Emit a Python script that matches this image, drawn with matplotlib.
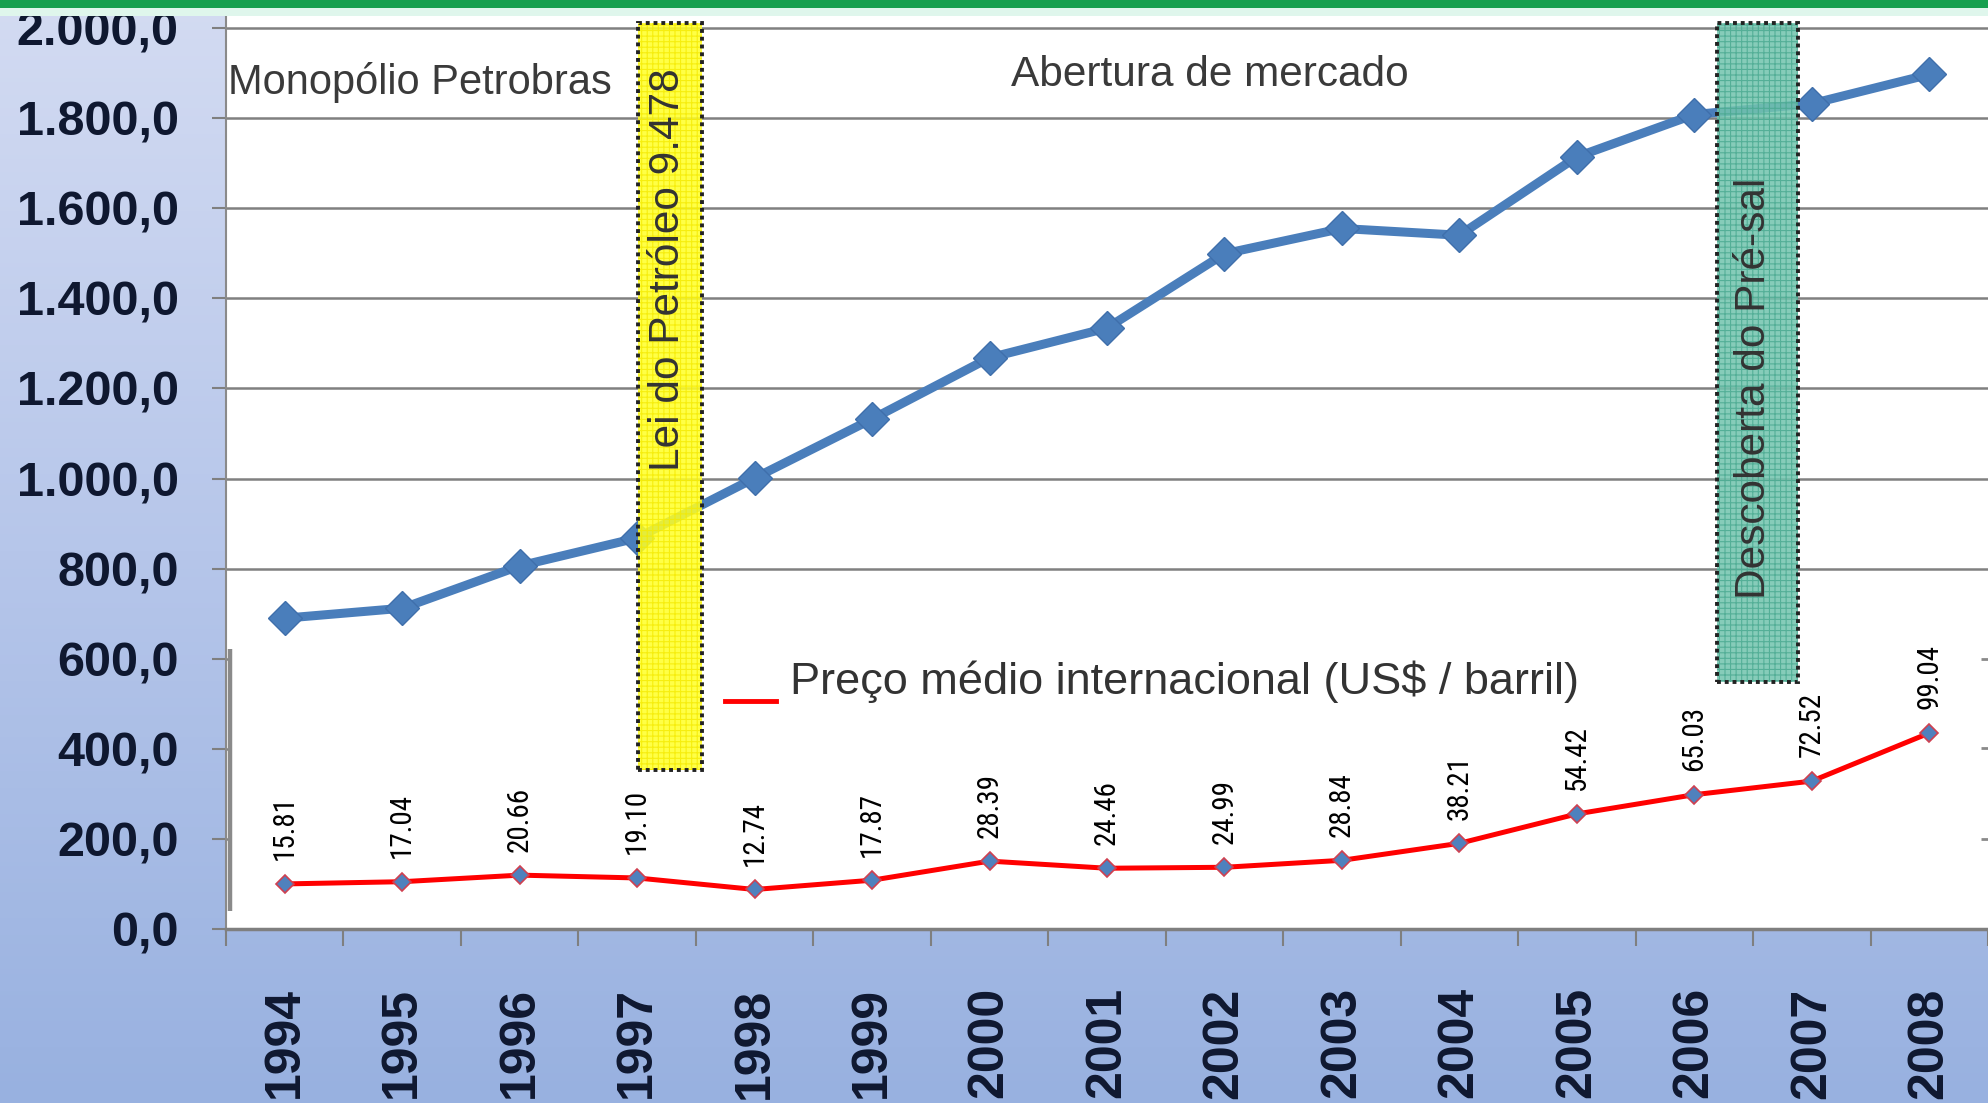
import numpy as np
import matplotlib
matplotlib.use("Agg")
import matplotlib.pyplot as plt
from matplotlib import font_manager
from matplotlib.patches import Rectangle
from matplotlib.colors import LinearSegmentedColormap, to_rgba

# ---------------- data ----------------
years = ["1994", "1995", "1996", "1997", "1998", "1999", "2000", "2001",
         "2002", "2003", "2004", "2005", "2006", "2007", "2008"]
producao = [690, 712, 806, 868, 1001, 1132, 1268, 1334, 1499, 1555, 1540,
            1714, 1808, 1832, 1897]
preco = [15.81, 17.04, 20.66, 19.10, 12.74, 17.87, 28.39, 24.46, 24.99,
         28.84, 38.21, 54.42, 65.03, 72.52, 99.04]
preco_labels = ["15.81", "17.04", "20.66", "19.10", "12.74", "17.87", "28.39",
                "24.46", "24.99", "28.84", "38.21", "54.42", "65.03", "72.52",
                "99.04"]
y_ticks = [0, 200, 400, 600, 800, 1000, 1200, 1400, 1600, 1800, 2000]
legend_label = "Preço médio internacional (US$ / barril)"

# ---------------- fonts ----------------
available = {f.name for f in font_manager.fontManager.ttflist}
SANS = "Liberation Sans" if "Liberation Sans" in available else "DejaVu Sans"
NARROW, NARROW_SIZE = SANS, 18
for cand, size in [("Liberation Sans Narrow", 21), ("Roboto Condensed", 21),
                   ("Open Sans Condensed", 20)]:
    if cand in available:
        NARROW, NARROW_SIZE = cand, size
        break

plt.rcParams["hatch.linewidth"] = 0.8

W, H = 1988, 1103
fig = plt.figure(figsize=(W / 100, H / 100), dpi=100)

# background gradient
bg = fig.add_axes([0, 0, 1, 1], zorder=-10)
grad = np.linspace(0, 1, 256).reshape(-1, 1)
cmap = LinearSegmentedColormap.from_list("bg", ["#d3dbf2", "#b6c6ea", "#98b1e0"])
bg.imshow(grad, aspect="auto", cmap=cmap, extent=[0, 1, 0, 1], origin="upper")
bg.axis("off")

# main axes
ax = fig.add_axes([226 / W, (H - 929) / H, (W - 226) / W, 919 / H])
ax.set_facecolor("white")
x = np.arange(len(years))
ax.set_xlim(-0.5, len(years) - 0.5)
ax.set_ylim(0, 2040)
ax.set_yticks(y_ticks)
ax.set_yticklabels([f"{v:,.1f}".replace(",", "X").replace(".", ",").replace("X", ".")
                    for v in y_ticks],
                   fontsize=35, fontweight="bold", family=SANS, color="#0f1830")
ax.yaxis.grid(True, color="#808080", lw=1.8)
ax.set_axisbelow(True)
ax.tick_params(axis="y", length=10, width=1.5, color="#7f7f7f", pad=24)

ax.set_xticks(x)
ax.set_xticklabels(years, rotation=90, fontsize=36, fontweight="bold",
                   family=SANS, color="#0f1830")
ax.set_xticks(np.arange(-0.5, len(years), 1), minor=True)
ax.tick_params(axis="x", which="major", length=0, pad=42)
ax.tick_params(axis="x", which="minor", length=12, width=1.5, color="#7f7f7f",
               direction="out")
for s in ["top", "right"]:
    ax.spines[s].set_visible(False)
ax.spines["left"].set_color("#8a8a8a")
ax.spines["left"].set_linewidth(1.5)
ax.spines["bottom"].set_color("#7f7f7f")
ax.spines["bottom"].set_linewidth(2.5)

ax.plot(x, producao, color="#4a7ebb", lw=6.5, marker="D", ms=17,
        mfc="#4a7ebb", mec="#3f6fab", zorder=3, solid_joinstyle="round")

ax.text(-0.483, 1880, "Monopólio Petrobras", ha="left", va="center",
        fontsize=30, family=SANS, color="#3a3a3a", zorder=6)
ax.text(7.877, 1896, "Abertura de mercado", ha="center", va="center",
        fontsize=30.5, family=SANS, color="#3a3a3a", zorder=6)

# secondary (embedded) chart
ax2 = ax.twinx()
ax2.set_ylim(-9.05, 497.8)
ax2.set_yticks([40.7, 90.8, 139.9])
ax2.set_yticklabels([])
ax2.tick_params(axis="y", direction="in", length=5, width=2, color="#8a8a8a")
for s in ax2.spines.values():
    s.set_visible(False)

ax2.add_patch(Rectangle((0.003, 0.012), 0.997, 0.293, transform=ax2.transAxes,
                        facecolor="white", edgecolor="none", zorder=0))
ax2.plot([0.0022, 0.0022], [0.02, 0.305], transform=ax2.transAxes,
         color="#8a8a8a", lw=3.2, solid_capstyle="butt")

ax2.plot(x, preco, color="#ff0000", lw=3.6, marker="D", ms=9.5,
         mfc="#4f81bd", mec="#d04050", mew=1.2, zorder=3)
for xi, v, lab in zip(x, preco, preco_labels):
    ax2.annotate(lab, (xi, v), xytext=(0, 17), textcoords="offset points",
                 rotation=90, ha="center", va="bottom", fontsize=NARROW_SIZE,
                 family=NARROW, color="black", zorder=4)

# legend
ax2.plot([3.75, 4.18], [506, 506], transform=ax.transData, color="#ff0000",
         lw=3.5, zorder=6)
ax2.text(4.30, 548, legend_label, transform=ax.transData, ha="left",
         va="center", fontsize=32.5, family=SANS, color="#333333", zorder=6)

# event boxes
boxes = [
    ((3.007, 354), 0.549, 1657, "#ffff28", "#f4ea00", "Lei do Petróleo 9.478",
     (3.263, 1463)),
    ((12.19, 548), 0.69, 1463, "#72c4ae", "#48a88f", "Descoberta do Pré-sal",
     (12.508, 1201)),
]
for (bx, by), bw, bh, col, hcol, label, (tx, ty) in boxes:
    ax2.add_patch(Rectangle((bx, by), bw, bh, transform=ax.transData,
                            facecolor=to_rgba(col, 0.86),
                            edgecolor=to_rgba(hcol, 0.8), lw=0, hatch="+++",
                            zorder=5))
    ax2.add_patch(Rectangle((bx, by), bw, bh, transform=ax.transData,
                            fill=False, edgecolor="#222222", lw=2.8,
                            ls=(0, (1, 1)), zorder=6))
    ax2.text(tx, ty, label, transform=ax.transData, rotation=90, ha="center",
             va="center", fontsize=30.5, family=SANS, color="#333333", zorder=7)

# top green bar and mint strip
fig.add_artist(Rectangle((0, 1 - 16 / H), 1, 8 / H, transform=fig.transFigure,
                         facecolor="#dff6ec", edgecolor="none", zorder=9))
fig.add_artist(Rectangle((0, 1 - 8 / H), 1, 8 / H, transform=fig.transFigure,
                         facecolor="#16a04f", edgecolor="none", zorder=10))

fig.savefig("out.png", dpi=100)
